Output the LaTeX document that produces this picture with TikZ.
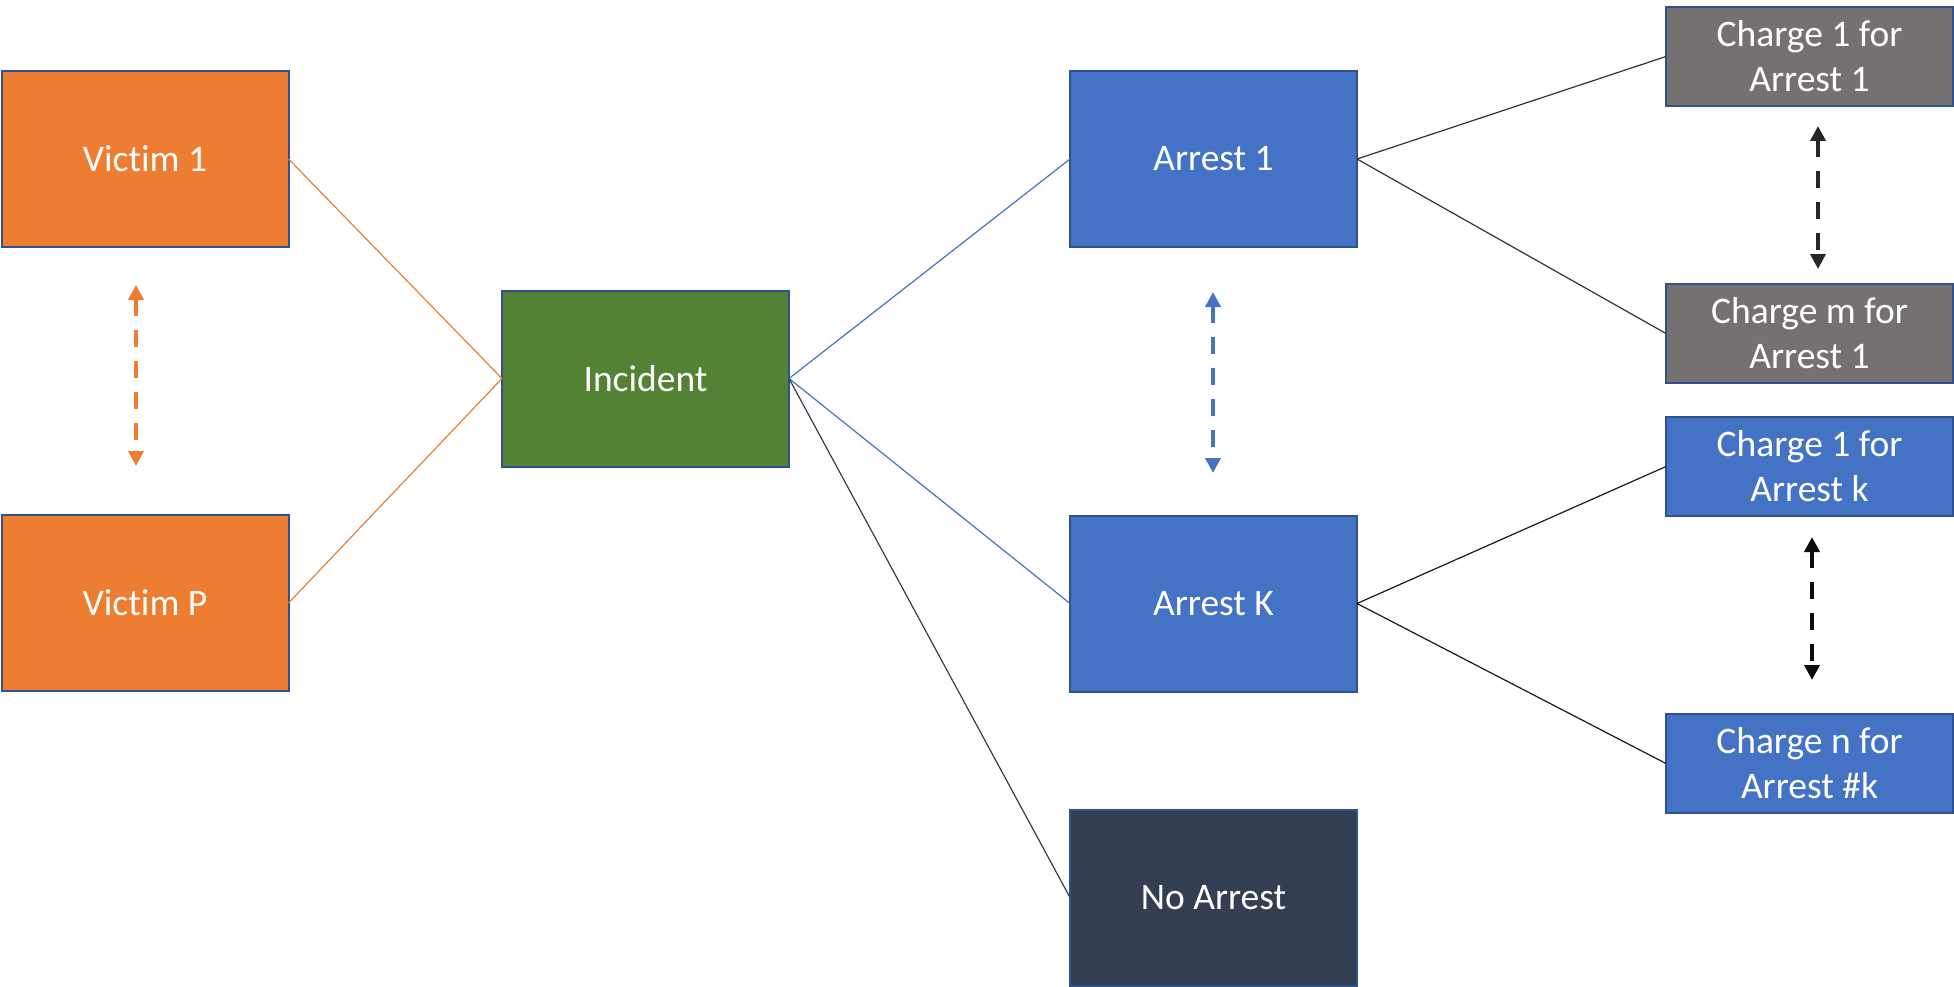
\documentclass[tikz,border=0pt]{standalone}
\usepackage{fontspec}
\setmainfont[Ligatures=NoCommon]{Carlito}
\usetikzlibrary{arrows.meta}
\definecolor{vorange}{HTML}{ED7D31}
\definecolor{igreen}{HTML}{548235}
\definecolor{ablue}{HTML}{4472C4}
\definecolor{nodark}{HTML}{333F50}
\definecolor{cgray}{HTML}{767171}
\definecolor{bord}{HTML}{2F528F}
\definecolor{darkarrow}{HTML}{262626}
\tikzset{
  box/.style={draw=bord, line width=2pt, rectangle, inner sep=0pt, outer sep=0pt,
    minimum width=287pt, text=white, align=center,
    font=\fontsize{37.5}{45}\selectfont},
  bigbox/.style={box, minimum height=176pt},
  smallbox/.style={box, minimum height=99pt},
  conn/.style={line width=1.2pt},
  dashedarrow/.style={line width=4.5pt, dash pattern=on 17pt off 14pt,
    {Triangle[length=15pt,width=15pt]}-{Triangle[length=15pt,width=15pt]}}
}
\begin{document}
\begin{tikzpicture}[x=1pt,y=-1pt]
\useasboundingbox (0,0) rectangle (1954,987);
\node[bigbox, fill=vorange] (v1) at (145,159) {Victim 1};
\node[bigbox, fill=vorange] (vp) at (145,603) {Victim P};
\node[bigbox, fill=igreen] (inc) at (645.5,378.5) {Incident};
\node[bigbox, fill=ablue] (a1) at (1213.5,159) {Arrest 1};
\node[bigbox, fill=ablue] (ak) at (1213.5,603.5) {Arrest K};
\node[bigbox, fill=nodark] (na) at (1213.5,897.5) {No Arrest};
\node[smallbox, fill=cgray] (c11) at (1809.5,56.5) {Charge 1 for\\Arrest 1};
\node[smallbox, fill=cgray] (cm1) at (1809.5,333.5) {Charge m for\\Arrest 1};
\node[smallbox, fill=ablue] (c1k) at (1809.5,466.5) {Charge 1 for\\Arrest k};
\node[smallbox, fill=ablue] (cnk) at (1809.5,763.5) {Charge n for\\Arrest \#k};

\draw[conn, vorange] (v1.east) -- (inc.west);
\draw[conn, vorange] (vp.east) -- (inc.west);
\draw[conn, ablue] (inc.east) -- (a1.west);
\draw[conn, ablue] (inc.east) -- (ak.west);
\draw[conn, nodark] (inc.east) -- (na.west);
\draw[conn, black!80] (a1.east) -- (c11.west);
\draw[conn, black!80] (a1.east) -- (cm1.west);
\draw[conn, black!90] (ak.east) -- (c1k.west);
\draw[conn, black!90] (ak.east) -- (cnk.west);

\coordinate (vt) at (136,285);
\coordinate (vb) at (136,466);
\coordinate (at) at (1213,292);
\coordinate (ab) at (1213,473);
\coordinate (gt) at (1818,126);
\coordinate (gb) at (1818,269);
\coordinate (kt) at (1812,537);
\coordinate (kb) at (1812,680);
\draw[dashedarrow, vorange] (vt) -- (vb);
\draw[dashedarrow, ablue] (at) -- (ab);
\draw[dashedarrow, darkarrow] (gt) -- (gb);
\draw[dashedarrow, black!95] (kt) -- (kb);
\end{tikzpicture}
\end{document}
